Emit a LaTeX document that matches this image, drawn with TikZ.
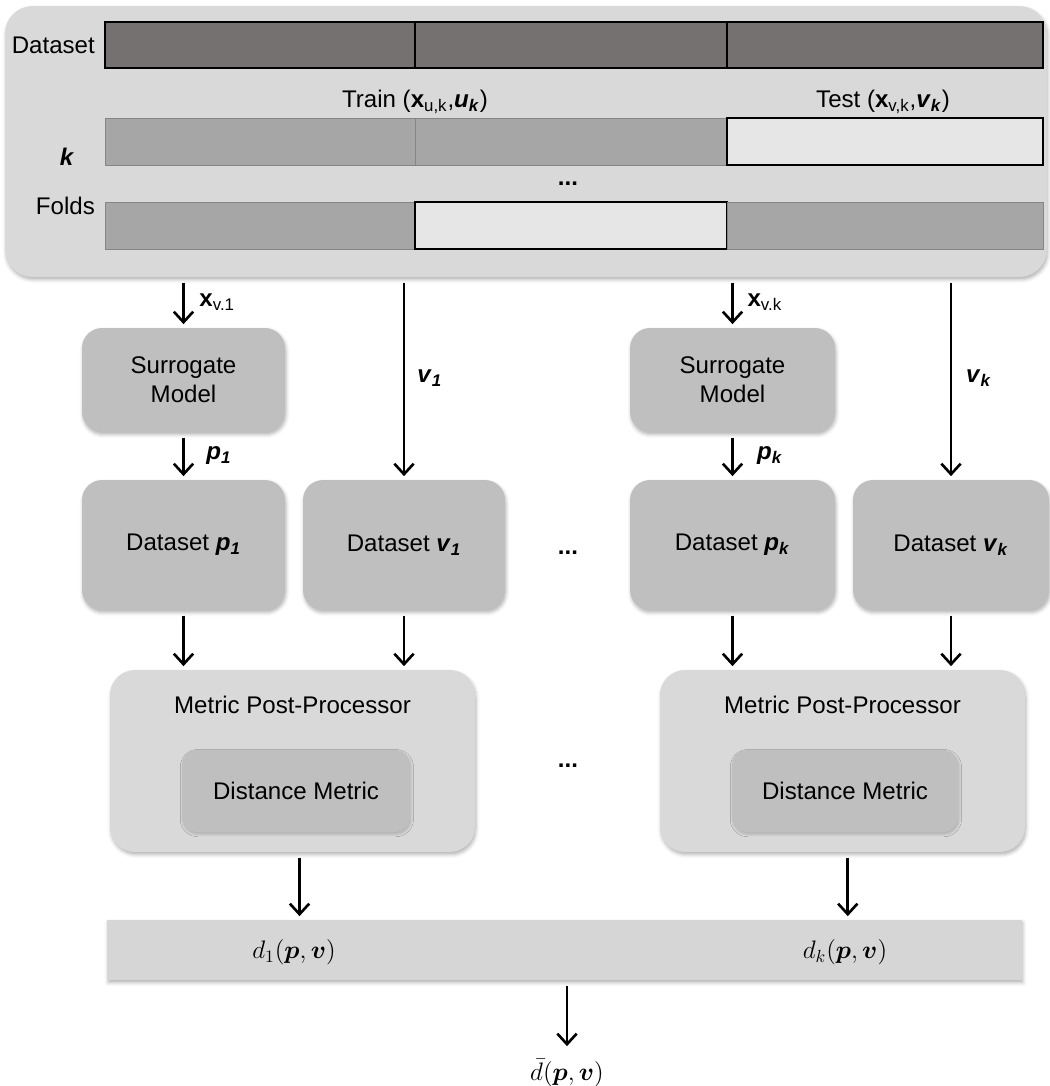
\documentclass[tikz,border=0pt]{standalone}
\usepackage{amsmath}
\usepackage{fontspec}
\setmainfont{Liberation Sans}
\usetikzlibrary{arrows.meta,shadows.blur}

\definecolor{paneltone}{HTML}{D9D9D9}
\definecolor{fulltone}{HTML}{767171}
\definecolor{traintone}{HTML}{A6A6A6}
\definecolor{testtone}{HTML}{E6E6E6}
\definecolor{blocktone}{HTML}{BFBFBF}
\definecolor{resulttone}{HTML}{D6D6D6}

\newcommand{\bx}{\textbf{x}}
\newcommand{\bi}[1]{\textbf{\textit{#1}}}

\tikzset{
    softshadow/.style={blur shadow={shadow xshift=0.6pt, shadow yshift=-1.5pt,
        shadow blur radius=2pt, shadow opacity=30}},
    panelbox/.style={rectangle, rounded corners=0.55cm, fill=paneltone, softshadow},
    fullcell/.style={rectangle, inner sep=0pt, minimum height=0.92cm,
        fill=fulltone, draw=black, line width=0.9pt},
    traincell/.style={rectangle, inner sep=0pt, minimum height=0.94cm,
        fill=traintone, draw=traintone!80!black, line width=0.4pt},
    testcell/.style={rectangle, inner sep=0pt, minimum height=0.94cm,
        fill=testtone, draw=black, line width=0.9pt},
    block/.style={rectangle, rounded corners=0.4cm, fill=blocktone, align=center,
        inner sep=0pt, softshadow},
    innerblock/.style={rectangle, rounded corners=0.3cm, fill=blocktone, align=center,
        inner sep=0pt, blur shadow={shadow xshift=0.5pt, shadow yshift=-1.2pt,
        shadow blur radius=1.5pt, shadow opacity=20}},
    mppbox/.style={rectangle, rounded corners=0.5cm, fill=paneltone, inner sep=0pt,
        minimum width=7.3cm, minimum height=3.64cm, softshadow},
    arr/.style={-{Straight Barb[length=6pt,width=11pt]}, line width=1.5pt,
        shorten <=3pt, shorten >=2pt},
}

\begin{document}
\begin{tikzpicture}[x=0.02cm, y=-0.02cm, font=\fontsize{13.7}{16.5}\selectfont]
    \useasboundingbox (0,0) rectangle (1049,1086);

    % k-fold split of the dataset
    \node[panelbox, minimum width=20.84cm, minimum height=5.42cm] (panel) at (526,141.5) {};
    \node[fullcell, minimum width=6.2cm] (data1) at (260,45) {};
    \node[fullcell, minimum width=6.24cm] (data2) at (571,45) {};
    \node[fullcell, minimum width=6.32cm] (data3) at (885,45) {};
    \node[anchor=east] (datalabel) at (101,45) {Dataset};
    \node (trainlabel) at (415,102) {Train (\bx\textsubscript{u,k},\bi{u}\textsubscript{\bi{k}})};
    \node (testlabel) at (883,102) {Test (\bx\textsubscript{v,k},\bi{v}\textsubscript{\bi{k}})};
    \node[traincell, minimum width=6.2cm] (k1) at (260,141.5) {};
    \node[traincell, minimum width=6.24cm] (k2) at (571,141.5) {};
    \node[testcell, minimum width=6.32cm] (k3) at (885,141.5) {};
    \node (klabel) at (67,157) {\bi{k}};
    \node (rowdots) at (568,184) {\textbf{...}};
    \node[traincell, minimum width=6.2cm] (f1) at (260,225.5) {};
    \node[testcell, minimum width=6.24cm] (f2) at (571,225.5) {};
    \node[traincell, minimum width=6.32cm] (f3) at (885,225.5) {};
    \node[anchor=east] (foldslabel) at (101,206) {Folds};

    % surrogate models and datasets
    \node[block, minimum width=4.06cm, minimum height=2.08cm] (sm1) at (183.5,380) {Surrogate\\Model};
    \node[block, minimum width=4.1cm, minimum height=2.08cm] (smk) at (732.5,380) {Surrogate\\Model};
    \node[block, minimum width=4.06cm, minimum height=2.6cm] (dsp1) at (183.5,545) {Dataset \bi{p}\textsubscript{\bi{1}}};
    \node[block, minimum width=4.04cm, minimum height=2.6cm] (dsv1) at (404,545) {Dataset \bi{v}\textsubscript{\bi{1}}};
    \node[block, minimum width=4.1cm, minimum height=2.6cm] (dspk) at (732.5,545) {Dataset \bi{p}\textsubscript{\bi{k}}};
    \node[block, minimum width=3.92cm, minimum height=2.6cm] (dsvk) at (951,545) {Dataset \bi{v}\textsubscript{\bi{k}}};
    \node (dsdots) at (568,553) {\textbf{...}};

    % metric post-processors
    \node[mppbox] (mpp1) at (292.5,761) {};
    \node (mpp1title) at (292.5,705) {Metric Post-Processor};
    \node[innerblock, minimum width=4.56cm, minimum height=1.64cm] (dm1) at (296,791) {Distance Metric};
    \node[mppbox] (mppk) at (842.5,761) {};
    \node (mppktitle) at (842.5,705) {Metric Post-Processor};
    \node[innerblock, minimum width=4.52cm, minimum height=1.64cm] (dmk) at (845,791) {Distance Metric};
    \node (mppdots) at (568,766) {\textbf{...}};

    % distances and their mean
    \node[rectangle, fill=resulttone, minimum width=18.3cm, minimum height=1.2cm, softshadow] (result) at (564.5,950) {};
    \node (d1val) at (294,952) {$d_1(\boldsymbol{p},\boldsymbol{v})$};
    \node (dkval) at (845,952) {$d_k(\boldsymbol{p},\boldsymbol{v})$};
    \node (dbar) at (567,1073) {$\bar{d}(\boldsymbol{p},\boldsymbol{v})$};

    % connectors
    \draw[arr] (sm1.north |- panel.south) -- (sm1.north) node[midway, right=5pt] {\bx\textsubscript{v.1}};
    \draw[arr] (dsv1.north |- panel.south) -- (dsv1.north) node[midway, right=3.5pt] {\bi{v}\textsubscript{\bi{1}}};
    \draw[arr] (smk.north |- panel.south) -- (smk.north) node[midway, right=4.5pt] {\bx\textsubscript{v.k}};
    \draw[arr] (dsvk.north |- panel.south) -- (dsvk.north) node[midway, right=4.5pt] {\bi{v}\textsubscript{\bi{k}}};
    \draw[arr] (sm1.south) -- (dsp1.north) node[midway, right=9pt] {\bi{p}\textsubscript{\bi{1}}};
    \draw[arr] (smk.south) -- (dspk.north) node[midway, right=10pt] {\bi{p}\textsubscript{\bi{k}}};
    \draw[arr] (dsp1.south) -- (dsp1.south |- mpp1.north);
    \draw[arr] (dsv1.south) -- (dsv1.south |- mpp1.north);
    \draw[arr] (dspk.south) -- (dspk.south |- mppk.north);
    \draw[arr] (dsvk.south) -- (dsvk.south |- mppk.north);
    \draw[arr] ([xshift=4pt]mpp1.south) -- ([xshift=4pt]mpp1.south |- result.north);
    \draw[arr] ([xshift=3pt]mppk.south) -- ([xshift=3pt]mppk.south |- result.north);
    \draw[arr, shorten >=4pt] (result.south -| dbar.north) -- (dbar.north);
\end{tikzpicture}
\end{document}
